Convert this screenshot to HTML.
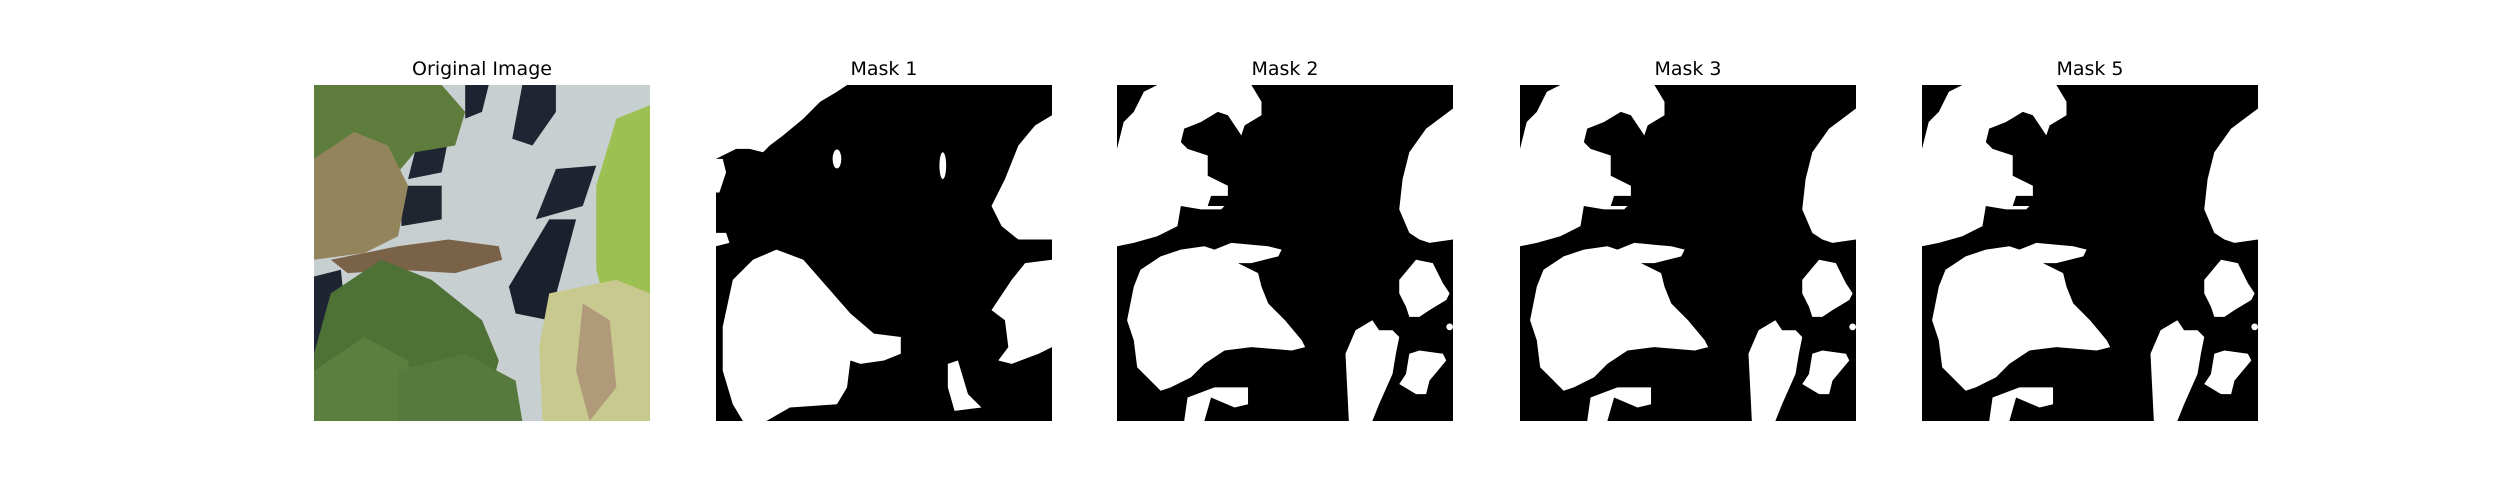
<!DOCTYPE html>
<html><head><meta charset="utf-8"><style>
body{margin:0;background:#fff;width:2500px;height:500px;overflow:hidden;position:relative;font-family:"DejaVu Sans","Liberation Sans",sans-serif}
.t{position:absolute;top:58px;width:336px;text-align:center;font-size:19px;color:#000}
svg.p{position:absolute;top:85px;width:336px;height:336px}
</style></head><body>
<svg width="0" height="0" style="position:absolute">
<defs>
<g id="m2">
<rect width="100" height="100" fill="#000"/>
<g fill="#fff">
<polygon points="0,19 2,11 5,8 8,2 12,0 40,0 43,5 43,9 38,12 37,15 33,9 30,8 25,11 20,13 19,17 21,19 27,21 27,27 33,30 33,33 28,33 27,36 32,36 31,37 25,37 19,36 18,42 12,45 5,47 0,48"/>
<polygon points="100,7 92,13 87,20 85,28 84,37 87,44 90,46 93,47 100,46"/>
<polygon points="3,70 5,60 7,55 13,51 19,49 26,48 29,49 34,47 45,48 49,49 48,51 40,53 36,53 42,56 43,60 45,65 50,70 55,76 56,78 52,79 40,78 32,79 26,83 22,87 16,90 13,91 10,88 6,84 5,76"/>
<polygon points="20,100 21,93 29,90 39,90 39,95 35,96 28,93 26,100"/>
<polygon points="69,100 68,80 71,73 76,70 78,73 82,73 84,75 83,80 82,86 78,95 76,100"/>
<polygon points="84,58 89,52 94,53 97,59 99,62 98,64 93,67 90,69 87,69 86,66 84,62"/>
<polygon points="86,86 87,80 90,79 97,80 98,82 93,88 92,92 89,92 84,89"/>
<circle cx="99" cy="72" r="1"/>
</g></g>
</defs></svg>

<div class="t" style="left:314px">Original Image</div>
<svg class="p" style="left:314px" viewBox="0 0 100 100" preserveAspectRatio="none">
<rect width="100" height="100" fill="#c8cfd1"/>
<polygon points="45,0 52,0 50,8 45,10" fill="#1d2330"/>
<polygon points="62,0 72,0 72,8 65,18 59,16" fill="#1f2532"/>
<polygon points="30,20 40,16 38,26 28,28" fill="#1f2532"/>
<polygon points="72,25 84,24 80,36 66,40" fill="#1e2431"/>
<polygon points="70,40 78,40 70,70 60,68 58,60" fill="#1a202c"/>
<polygon points="0,57 8,55 10,75 0,80" fill="#1e2431"/>
<polygon points="26,30 38,30 38,40 26,42" fill="#20262f"/>
<polygon points="0,0 38,0 45,8 42,18 30,20 20,32 10,35 0,30" fill="#5e7d3c"/>
<polygon points="0,22 12,14 22,18 28,30 25,45 15,50 0,52" fill="#93845c"/>
<polygon points="5,52 25,48 40,46 55,48 56,52 42,56 25,55 10,56" fill="#7a6248"/>
<polygon points="90,10 100,6 100,65 88,70 84,55 84,30" fill="#9dc053"/>
<polygon points="5,62 20,52 35,58 50,70 55,82 50,100 0,100 0,80" fill="#4e7235"/>
<polygon points="0,85 15,75 28,82 30,100 0,100" fill="#5b7f3f"/>
<polygon points="25,85 45,80 60,88 62,100 25,100" fill="#567a3e"/>
<polygon points="70,62 90,58 100,62 100,100 68,100 67,78" fill="#c8c98e"/>
<polygon points="80,65 88,70 90,90 82,100 78,85" fill="#b09a7a"/>
</svg>

<div class="t" style="left:716px">Mask 1</div>
<svg class="p" style="left:716px" viewBox="0 0 100 100" preserveAspectRatio="none">
<rect width="100" height="100" fill="#000"/>
<g fill="#fff">
<polygon points="0,0 39,0 36,2 31,5 26,10 20,15 16,18 14,20 10,19 6,19 2,21 0,22"/>
<polygon points="0,22 2,22 3,26 1,32 0,32"/>
<polygon points="0,44 3,44 4,47 0,48"/>
<polygon points="2,72 5,58 11,52 18,49 26,52 33,60 40,68 47,74 55,75 55,80 50,82 43,83 40,82 39,90 36,95 22,96 15,100 8,100 5,95 2,85"/>
<polygon points="100,9 95,12 90,18 86,28 82,36 85,42 90,46 100,46"/>
<polygon points="100,52 92,53 88,58 84,64 82,67 86,70 87,78 84,82 88,83 96,80 100,78"/>
<polygon points="69,83 72,82 75,92 79,96 71,97 69,90"/>
<ellipse cx="36" cy="22" rx="1.3" ry="2.8"/>
<ellipse cx="67.5" cy="24" rx="1" ry="4"/>
</g></svg>

<div class="t" style="left:1117px">Mask 2</div>
<svg class="p" style="left:1117px" viewBox="0 0 100 100" preserveAspectRatio="none"><use href="#m2"/></svg>

<div class="t" style="left:1520px">Mask 3</div>
<svg class="p" style="left:1520px" viewBox="0 0 100 100" preserveAspectRatio="none"><use href="#m2"/></svg>

<div class="t" style="left:1922px">Mask 5</div>
<svg class="p" style="left:1922px" viewBox="0 0 100 100" preserveAspectRatio="none"><use href="#m2"/></svg>
</body></html>
